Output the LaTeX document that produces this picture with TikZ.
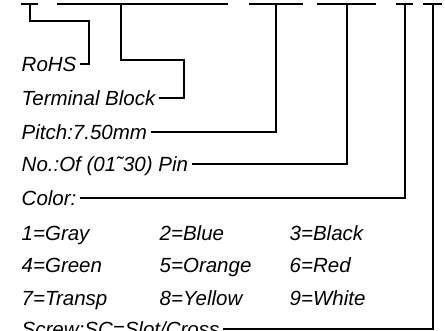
\documentclass[tikz,border=0pt]{standalone}
\usepackage{fontspec}
\setsansfont{Liberation Sans}
\usetikzlibrary{positioning}

\begin{document}
\begin{tikzpicture}[x=1pt, y=-1pt,
    lead/.style={line width=1.1pt, line cap=rect},
    txt/.style={font=\sffamily\itshape\fontsize{20.5}{20.5}\selectfont,
                anchor=west, inner ysep=2.5pt, inner xsep=4pt,
                text height=14.8pt, text depth=0pt}
]
\useasboundingbox (0,0) rectangle (445,331);
\clip (0,0) rectangle (445,331);

% Code segments along the top
\foreach \a/\b in {22/37, 58/227, 250/302, 318/375, 397/412, 424/441}
    \draw[lead] (\a,4) -- (\b,4);

% Tap points on the segments
\coordinate (tap1) at (30,4);
\coordinate (tap2) at (121,4);
\coordinate (tap3) at (276,4);
\coordinate (tap4) at (347,4);
\coordinate (tap5) at (405,4);
\coordinate (tap6) at (433,4);
\coordinate (bend1) at (89,21);
\coordinate (bend2) at (184,60);

% Labels
\node[txt] (rohs)  at (17.5,64)  {RoHS};
\node[txt] (term)  at (17.5,98)  {Terminal Block};
\node[txt] (pitch) at (17.5,132) {Pitch:7.50mm};
\node[txt] (pins)  at (17.5,164) {No.:Of (01\char"02DC 30) Pin};
\node[txt] (color) at (17.5,198) {Color:};
\node[txt] (screw) at (17.5,329) {Screw:SC=Slot/Cross};

% Color table
\foreach \x/\y/\t [count=\i] in {17.5/233/1=Gray, 155.5/233/2=Blue, 285.5/233/3=Black,
                                 17.5/265/4=Green, 155.5/265/5=Orange, 285.5/265/6=Red,
                                 17.5/298/7=Transp, 155.5/298/8=Yellow, 285.5/298/9=White}
    \node[txt] (col\i) at (\x,\y) {\t};

% Leaders
\draw[lead] (tap1) |- (bend1) |- (rohs.east);
\draw[lead] (tap2) |- (bend2) |- (term.east);
\draw[lead] (tap3) |- (pitch.east);
\draw[lead] (tap4) |- (pins.east);
\draw[lead] (tap5) |- (color.east);
\draw[lead] (tap6) |- (screw.east);

\end{tikzpicture}
\end{document}
